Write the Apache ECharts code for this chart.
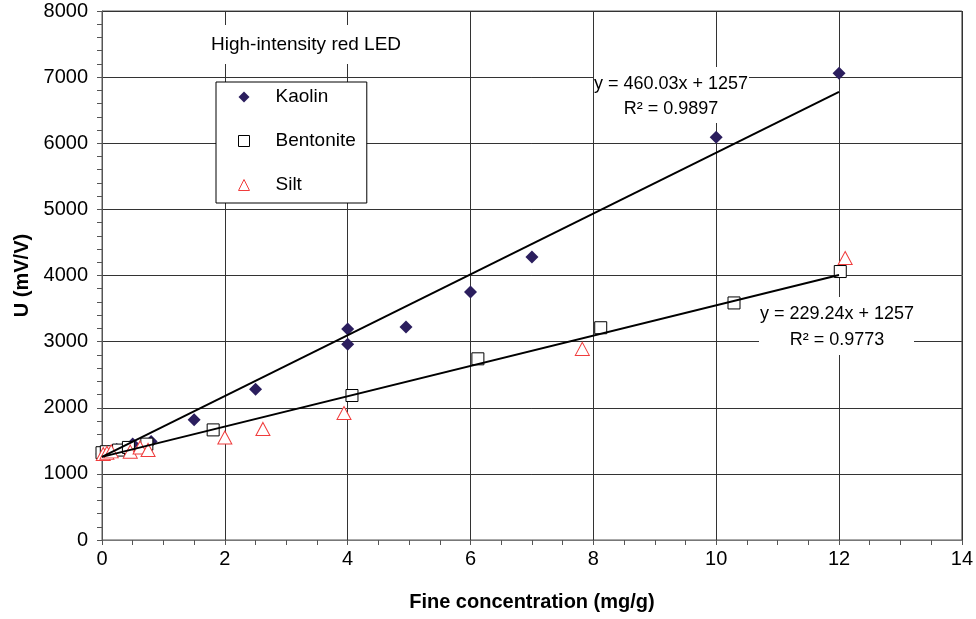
<!DOCTYPE html>
<html>
<head>
<meta charset="utf-8">
<script src="https://cdn.jsdelivr.net/npm/echarts@6/dist/echarts.min.js"></script>
<style>html,body{margin:0;padding:0;background:#fff;}#c{width:976px;height:619px;}</style>
</head>
<body>
<div id="c"></div>
<script>
// ---- data ----
const kaolinConc = [0, 0.05, 0.1, 0.24, 0.5, 0.8, 1.5, 2.5, 4.0, 4.0, 4.95, 6.0, 7.0, 10.0, 12.0];
const kaolinU    = [1300, 1320, 1335, 1370, 1450, 1490, 1820, 2280, 3190, 2960, 3220, 3750, 4280, 6090, 7060];

const bentoniteConc = [0, 0.07, 0.27, 0.43, 0.73, 1.81, 4.07, 6.12, 8.12, 10.29, 12.02];
const bentoniteU    = [1320, 1335, 1360, 1400, 1450, 1665, 2185, 2740, 3210, 3585, 4060];

const siltConc = [0.02, 0.08, 0.15, 0.46, 0.62, 0.75, 2.0, 2.62, 3.94, 7.82, 12.1];
const siltU    = [1300, 1320, 1340, 1336, 1400, 1362, 1550, 1680, 1920, 2890, 4265];

// trendline endpoints (x range 0 .. 12)
const kaolinTrendX = [0, 12];
const kaolinTrendU = [1257, 6777.4];
const mixTrendX = [0, 12];
const mixTrendU = [1257, 4007.9];

const kaolinEq = ['y = 460.03x + 1257', 'R\u00B2 = 0.9897'];
const mixEq = ['y = 229.24x + 1257', 'R\u00B2 = 0.9773'];

const xTicks = [0, 2, 4, 6, 8, 10, 12, 14];
const yTicks = [0, 1000, 2000, 3000, 4000, 5000, 6000, 7000, 8000];

const zip = (a, b) => a.map((v, i) => [v, b[i]]);

const FONT = '"Liberation Sans", Arial, sans-serif';
const chart = echarts.init(document.getElementById('c'), null, {renderer: 'canvas'});

chart.setOption({
  animation: false,
  backgroundColor: '#fff',
  grid: {left: 102, right: 14, top: 11, bottom: 79, show: true, borderColor: '#555', borderWidth: 1},
  title: {
    text: 'High-intensity red LED',
    left: 205, top: 25,
    padding: [10, 6, 10, 6],
    backgroundColor: '#fff',
    textStyle: {fontFamily: FONT, fontSize: 19, fontWeight: 'normal', color: '#000'}
  },
  legend: {
    data: [
      {name: 'Kaolin', icon: 'diamond', itemStyle: {color: '#2B1E5E', borderWidth: 0}},
      {name: 'Bentonite', icon: 'rect', itemStyle: {color: '#fff', borderColor: '#000', borderWidth: 1}},
      {name: 'Silt', icon: 'triangle', itemStyle: {color: '#fff', borderColor: '#F03C3C', borderWidth: 1}}
    ],
    orient: 'vertical',
    left: 216, top: 82,
    padding: [5, 11, 8, 22],
    itemWidth: 11, itemHeight: 11, itemGap: 24,
    backgroundColor: '#fff', borderColor: '#000', borderWidth: 1,
    textStyle: {fontFamily: FONT, fontSize: 19, color: '#000', lineHeight: 20, padding: [0, 0, 0, 21]}
  },
  xAxis: {
    type: 'value', min: xTicks[0], max: xTicks[xTicks.length - 1], interval: 2,
    name: 'Fine concentration (mg/g)', nameLocation: 'middle', nameGap: 52,
    nameTextStyle: {fontFamily: FONT, fontSize: 20, fontWeight: 'bold', color: '#000'},
    axisLine: {show: true, lineStyle: {color: '#777', width: 1}},
    axisTick: {show: true, inside: false, length: 5, lineStyle: {color: '#555'}},
    minorTick: {show: true, splitNumber: 4, length: 5, lineStyle: {color: '#555'}},
    axisLabel: {fontFamily: FONT, fontSize: 20, color: '#000', margin: 9},
    splitLine: {show: true, lineStyle: {color: '#333', width: 1}}
  },
  yAxis: {
    type: 'value', min: yTicks[0], max: yTicks[yTicks.length - 1], interval: 1000,
    name: 'U (mV/V)', nameLocation: 'middle', nameGap: 66, nameRotate: 90,
    nameTextStyle: {fontFamily: FONT, fontSize: 20, fontWeight: 'bold', color: '#000'},
    axisLine: {show: true, lineStyle: {color: '#555', width: 1}},
    axisTick: {show: true, inside: false, length: 5, lineStyle: {color: '#555'}},
    minorTick: {show: true, splitNumber: 5, length: 5, lineStyle: {color: '#555'}},
    axisLabel: {fontFamily: FONT, fontSize: 20, color: '#000', margin: 14, formatter: v => String(v)},
    splitLine: {show: true, lineStyle: {color: '#333', width: 1}}
  },
  series: [
    {name: 'Kaolin', type: 'scatter', symbol: 'diamond', symbolSize: 13, z: 3,
     itemStyle: {color: '#2B1E5E', opacity: 1}, data: zip(kaolinConc, kaolinU)},
    {name: 'Bentonite', type: 'scatter', symbol: 'rect', symbolSize: 12, z: 3,
     itemStyle: {color: '#fff', borderColor: '#000', borderWidth: 1, opacity: 1}, data: zip(bentoniteConc, bentoniteU)},
    {name: 'Silt', type: 'scatter', symbol: 'triangle', symbolSize: [14, 13], z: 3,
     itemStyle: {color: '#fff', borderColor: '#F03C3C', borderWidth: 1, opacity: 1}, data: zip(siltConc, siltU)},
    {name: 'Kaolin trend', type: 'line', showSymbol: false, symbol: 'none', z: 4,
     lineStyle: {color: '#000', width: 2}, data: zip(kaolinTrendX, kaolinTrendU)},
    {name: 'Mix trend', type: 'line', showSymbol: false, symbol: 'none', z: 4,
     lineStyle: {color: '#000', width: 2}, data: zip(mixTrendX, mixTrendU)}
  ],
  graphic: [
    {type: 'rect', z: 10, shape: {x: 594, y: 67, width: 155, height: 56}, style: {fill: '#fff'}},
    {type: 'text', z: 11, x: 671, y: 84, style: {text: kaolinEq[0], font: '18px ' + FONT, fill: '#000', textAlign: 'center', textVerticalAlign: 'middle'}},
    {type: 'text', z: 11, x: 671, y: 109, style: {text: kaolinEq[1], font: '18px ' + FONT, fill: '#000', textAlign: 'center', textVerticalAlign: 'middle'}},
    {type: 'rect', z: 10, shape: {x: 759, y: 297, width: 155, height: 58}, style: {fill: '#fff'}},
    {type: 'text', z: 11, x: 837, y: 314, style: {text: mixEq[0], font: '18px ' + FONT, fill: '#000', textAlign: 'center', textVerticalAlign: 'middle'}},
    {type: 'text', z: 11, x: 837, y: 340, style: {text: mixEq[1], font: '18px ' + FONT, fill: '#000', textAlign: 'center', textVerticalAlign: 'middle'}}
  ]
});
</script>
</body>
</html>
